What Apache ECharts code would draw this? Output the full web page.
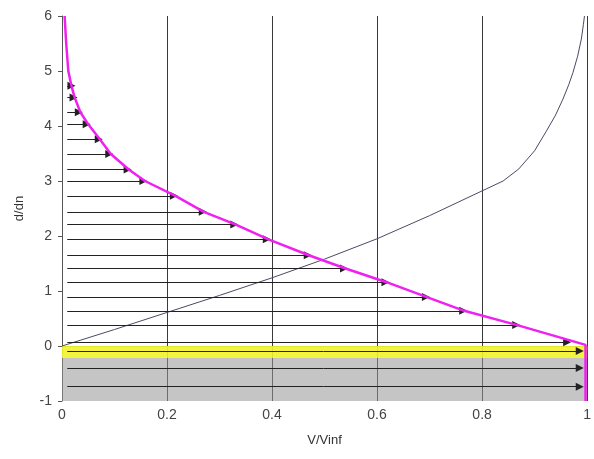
<!DOCTYPE html>
<html>
<head>
<meta charset="utf-8">
<script src="https://cdn.jsdelivr.net/npm/echarts@6/dist/echarts.min.js"></script>
<style>
html,body{margin:0;padding:0;background:#fff;}
#c{width:594px;height:459px;}
</style>
</head>
<body>
<div id="c"></div>
<script>
// Tick labels
var xTicks = ['0', '0.2', '0.4', '0.6', '0.8', '1'];
var yTicks = ['-1', '0', '1', '2', '3', '4', '5', '6'];

// Velocity profile (magenta curve): [V/Vinf, d/dn]
var profile = [
  [0.005, 6.0], [0.008, 5.5], [0.012, 5.0], [0.018, 4.73], [0.024, 4.52],
  [0.035, 4.25], [0.05, 4.03], [0.072, 3.76], [0.093, 3.49], [0.127, 3.21],
  [0.158, 3.0], [0.216, 2.73], [0.27, 2.44], [0.33, 2.21], [0.393, 1.94],
  [0.47, 1.65], [0.54, 1.41], [0.618, 1.16], [0.695, 0.89], [0.766, 0.64],
  [0.867, 0.38], [0.997, 0.02], [0.997, -1.0]
];

// Thin curve
var thinCurve = [
  [0, 0], [0.1, 0.3], [0.2, 0.61], [0.3, 0.92], [0.4, 1.24], [0.5, 1.58],
  [0.6, 1.95], [0.7, 2.37], [0.8, 2.82], [0.84, 3.0], [0.87, 3.22],
  [0.9, 3.55], [0.922, 3.9], [0.94, 4.2], [0.954, 4.49], [0.965, 4.75],
  [0.973, 4.97], [0.982, 5.27], [0.989, 5.58], [0.993, 5.85], [0.995, 6.0]
];

// Velocity arrows: height and tip position
var arrowY = [4.73, 4.52, 4.25, 4.03, 3.76, 3.49, 3.21, 3.00, 2.73, 2.44, 2.21,
              1.94, 1.65, 1.41, 1.16, 0.89, 0.64, 0.38, 0.07, -0.09, -0.40, -0.74];
var arrowX = [0.018, 0.022, 0.032, 0.047, 0.07, 0.09, 0.125, 0.155, 0.213, 0.268, 0.328,
              0.39, 0.468, 0.537, 0.616, 0.693, 0.764, 0.865, 0.962, 0.986, 0.986, 0.986];
var arrowStart = 0.01;

// Shaded bands
var grayBand = [-1, 0];
var yellowBand = [-0.22, 0];

var arrowData = arrowY.map(function (y, i) {
  return { coords: [[arrowStart, y], [arrowX[i], y]] };
});

var chart = echarts.init(document.getElementById('c'));
chart.setOption({
  animation: false,
  backgroundColor: '#ffffff',
  grid: { left: 62, right: 3, top: 16, bottom: 58, containLabel: false },
  xAxis: {
    type: 'value', min: 0, max: 1, interval: 0.2,
    name: 'V/Vinf', nameLocation: 'middle', nameGap: 33,
    nameTextStyle: { fontFamily: 'Liberation Sans', fontSize: 13, color: '#333' },
    axisLine: { show: true, lineStyle: { color: '#555', width: 1 } },
    axisTick: { show: true, length: 4, lineStyle: { color: '#555' } },
    axisLabel: {
      fontFamily: 'Liberation Sans', fontSize: 14, color: '#444', margin: 7,
      formatter: function (v) { var idx = Math.round(v / 0.2); return xTicks[idx]; }
    },
    splitLine: { show: true, lineStyle: { color: '#3a3a3a', width: 1 } }
  },
  yAxis: {
    type: 'value', min: -1, max: 6, interval: 1,
    name: 'd/dn', nameLocation: 'middle', nameGap: 36, nameRotate: 90,
    nameTextStyle: { fontFamily: 'Liberation Sans', fontSize: 13, color: '#333' },
    axisLine: { show: true, lineStyle: { color: '#555', width: 1 } },
    axisTick: { show: true, length: 4, lineStyle: { color: '#555' } },
    axisLabel: {
      fontFamily: 'Liberation Sans', fontSize: 14, color: '#444', margin: 10,
      formatter: function (v) { return yTicks[Math.round(v) + 1]; }
    },
    splitLine: { show: false }
  },
  series: [
    {
      type: 'line', data: [], silent: true,
      markArea: {
        silent: true,
        data: [
          [{ yAxis: grayBand[0], itemStyle: { color: 'rgba(150,150,150,0.55)' } }, { yAxis: grayBand[1] }],
          [{ yAxis: yellowBand[0], itemStyle: { color: 'rgba(255,255,30,0.8)' } }, { yAxis: yellowBand[1] }]
        ]
      }
    },
    {
      type: 'line', data: thinCurve, showSymbol: false, smooth: false,
      lineStyle: { color: '#4a4a66', width: 1 }, z: 3
    },
    {
      type: 'lines', coordinateSystem: 'cartesian2d', data: arrowData,
      symbol: ['none', 'triangle'], symbolSize: 8,
      lineStyle: { color: '#222', width: 1, opacity: 1 },
      itemStyle: { color: '#111' }, z: 4
    },
    {
      type: 'line', data: profile, showSymbol: false, smooth: false,
      lineStyle: { color: '#f020f0', width: 2.5 }, z: 5
    }
  ]
});
</script>
</body>
</html>
